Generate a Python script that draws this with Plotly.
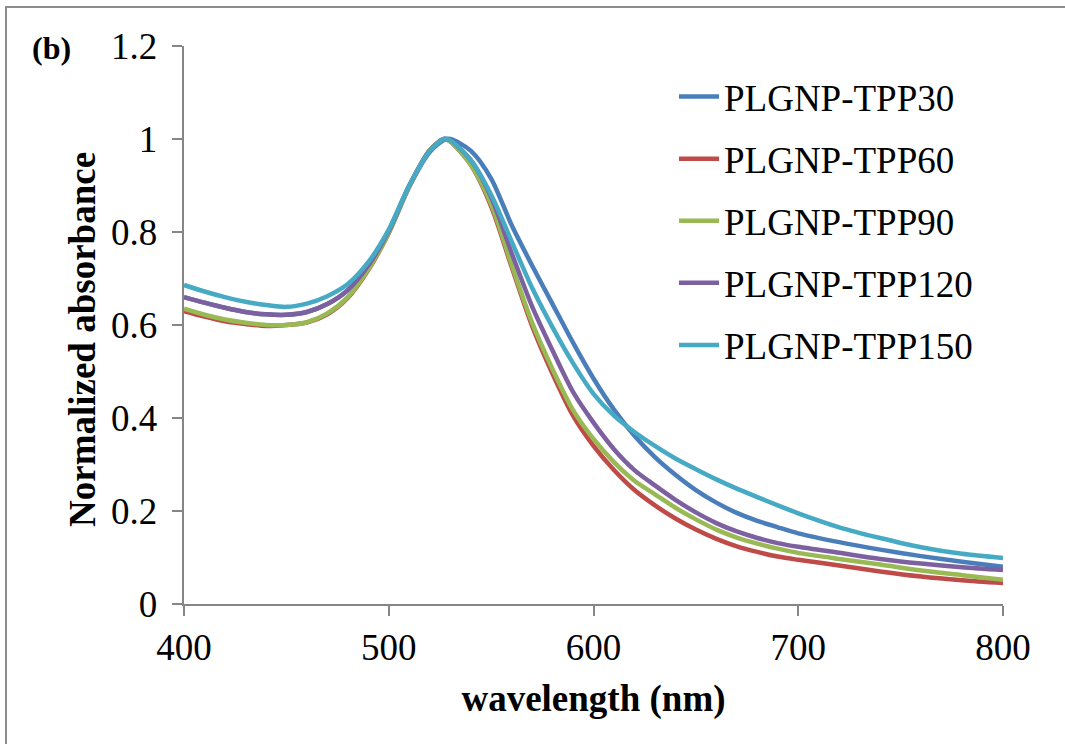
import plotly.graph_objects as go

wavelength = [400, 410, 420, 430, 440, 450, 460, 470, 480, 490, 500, 510, 520, 527, 530,
              540, 550, 560, 570, 580, 590, 600, 610, 620, 630, 640, 650, 660, 670, 680,
              690, 700, 720, 740, 760, 780, 800]

tpp30 = [0.660, 0.648, 0.637, 0.628, 0.623, 0.622, 0.628, 0.645, 0.675, 0.728, 0.802, 0.898, 0.972, 0.998, 1.000,
         0.975, 0.915, 0.815, 0.728, 0.645, 0.562, 0.485, 0.418, 0.362, 0.316, 0.278, 0.245, 0.218, 0.196, 0.179,
         0.165, 0.152, 0.133, 0.117, 0.103, 0.091, 0.080]
tpp60 = [0.630, 0.618, 0.608, 0.602, 0.598, 0.600, 0.605, 0.623, 0.658, 0.718, 0.798, 0.898, 0.976, 1.000, 0.995,
         0.945, 0.855, 0.725, 0.598, 0.495, 0.405, 0.340, 0.288, 0.245, 0.212, 0.184, 0.160, 0.140, 0.124, 0.112,
         0.102, 0.095, 0.083, 0.070, 0.059, 0.051, 0.045]
tpp90 = [0.635, 0.622, 0.612, 0.605, 0.600, 0.600, 0.606, 0.625, 0.660, 0.720, 0.798, 0.898, 0.976, 1.000, 0.995,
         0.945, 0.860, 0.730, 0.605, 0.505, 0.417, 0.355, 0.305, 0.265, 0.236, 0.207, 0.182, 0.160, 0.143, 0.130,
         0.119, 0.110, 0.097, 0.085, 0.072, 0.062, 0.052]
tpp120 = [0.660, 0.648, 0.637, 0.628, 0.623, 0.622, 0.628, 0.645, 0.675, 0.728, 0.802, 0.900, 0.975, 1.000, 0.997,
          0.955, 0.875, 0.755, 0.640, 0.545, 0.456, 0.390, 0.333, 0.288, 0.255, 0.224, 0.197, 0.174, 0.156, 0.142,
          0.131, 0.123, 0.110, 0.097, 0.087, 0.079, 0.073]
tpp150 = [0.686, 0.672, 0.660, 0.650, 0.643, 0.639, 0.646, 0.662, 0.688, 0.735, 0.805, 0.900, 0.975, 1.000, 0.997,
          0.955, 0.880, 0.780, 0.680, 0.595, 0.518, 0.452, 0.405, 0.370, 0.340, 0.313, 0.290, 0.268, 0.248, 0.230,
          0.212, 0.195, 0.165, 0.142, 0.122, 0.108, 0.099]

series_names = ["PLGNP-TPP30", "PLGNP-TPP60", "PLGNP-TPP90", "PLGNP-TPP120", "PLGNP-TPP150"]
series_values = [tpp30, tpp60, tpp90, tpp120, tpp150]
colors = ["#4A7EBB", "#BE4B48", "#98B954", "#7D60A0", "#46AAC5"]

x_ticks = [400, 500, 600, 700, 800]
y_ticks = [0, 0.2, 0.4, 0.6, 0.8, 1.0, 1.2]
y_ticklabels = ["0", "0.2", "0.4", "0.6", "0.8", "1", "1.2"]

FONT = "Liberation Serif"
AXIS_COLOR = "#868686"

fig = go.Figure()
for i, (name, vals, col) in enumerate(zip(series_names, series_values, colors)):
    fig.add_trace(go.Scatter(
        x=wavelength, y=vals, mode="lines", name=name,
        line=dict(color=col, width=4.5, shape="spline", smoothing=0.8),
        legendgroup=f"g{i}",
    ))

W, H = 1065, 744
L, R, T, B = 184, 1003, 46, 604
pw, ph = R - L, B - T


def px_x(p):
    return (p - L) / pw


def px_y(p):
    return (B - p) / ph


fig.update_layout(
    width=W, height=H,
    margin=dict(l=L, r=W - R, t=T, b=H - B, pad=0),
    paper_bgcolor="white", plot_bgcolor="white",
    font=dict(family=FONT, color="black", size=37),
    showlegend=True,
    legend=dict(
        x=px_x(674), y=px_y(66), xanchor="left", yanchor="top",
        font=dict(family=FONT, size=37, color="black"),
        bgcolor="rgba(0,0,0,0)", borderwidth=0,
        tracegroupgap=11, itemwidth=40,
    ),
    xaxis=dict(
        range=[400, 800], tickvals=x_ticks, ticks="outside", ticklen=10,
        tickcolor=AXIS_COLOR, tickwidth=2, showline=True, linecolor=AXIS_COLOR,
        linewidth=2, showgrid=False, zeroline=False,
        tickfont=dict(family=FONT, size=37, color="black"),
        title=dict(text="<b>wavelength (nm)</b>", font=dict(family=FONT, size=37), standoff=18),
    ),
    yaxis=dict(
        range=[0, 1.2], tickvals=y_ticks,
        ticktext=[t + "\u2009" for t in y_ticklabels], ticks="outside",
        ticklen=10, tickcolor=AXIS_COLOR, tickwidth=2, showline=True,
        linecolor=AXIS_COLOR, linewidth=2, showgrid=False, zeroline=False,
        tickfont=dict(family=FONT, size=37, color="black"),
    ),
)

fig.add_annotation(text="<b>Normalized absorbance</b>", xref="paper", yref="paper",
                   x=px_x(82), y=px_y(340), xanchor="center", yanchor="middle",
                   textangle=-90, showarrow=False,
                   font=dict(family=FONT, size=37, color="black"))

fig.add_shape(type="rect", xref="paper", yref="paper",
              x0=px_x(6), x1=px_x(1100), y0=px_y(800), y1=px_y(7),
              line=dict(color="#8c8c8c", width=2), fillcolor="rgba(0,0,0,0)", layer="below")

fig.add_annotation(text="<b>(b)</b>", xref="paper", yref="paper",
                   x=px_x(30), y=px_y(48), xanchor="left", yanchor="middle",
                   showarrow=False, font=dict(family=FONT, size=32, color="black"))

fig.write_html("out.html", config={"displayModeBar": False},
               post_script="document.body.style.margin='0px';")
